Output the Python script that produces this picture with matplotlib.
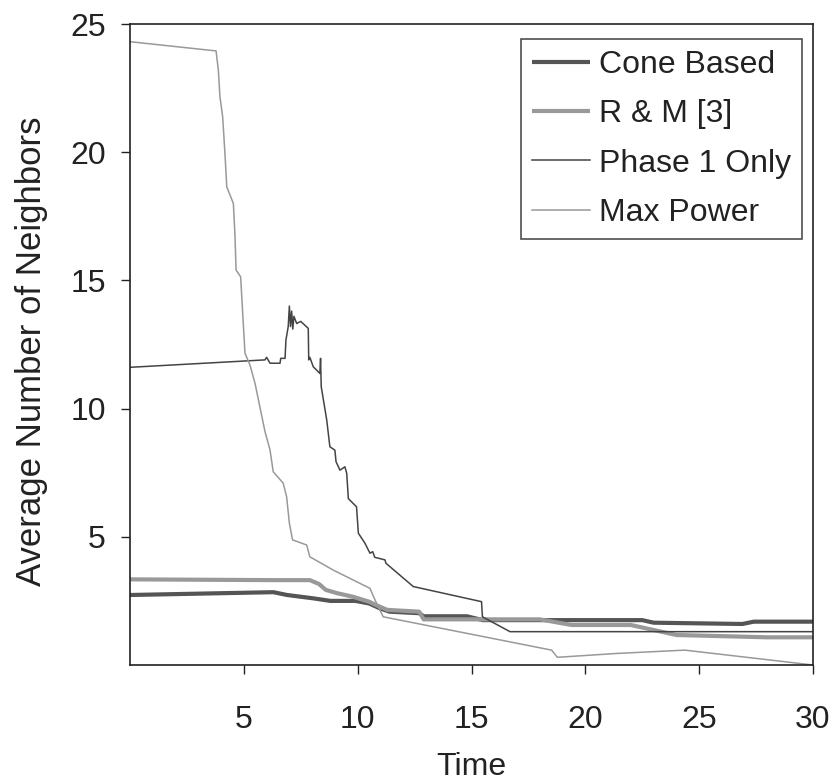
import numpy as np
import matplotlib
matplotlib.use("Agg")
import matplotlib.pyplot as plt

plt.rcParams['font.family'] = ['Liberation Sans', 'DejaVu Sans']

# Cone Based
cone_x = [0, 6.3, 6.9, 8.05, 8.8, 9.9, 10.5, 11.0, 11.4, 12.7, 12.9, 14.8, 15.5, 22.5, 23.0, 26.9, 27.4, 30]
cone_y = [2.73, 2.84, 2.73, 2.6, 2.5, 2.5, 2.4, 2.2, 2.08, 2.02, 1.9, 1.9, 1.75, 1.75, 1.65, 1.6, 1.69, 1.69]

# R & M [3]
rm_x = [0, 6.3, 7.9, 8.3, 8.6, 9.1, 9.8, 10.5, 10.8, 11.3, 12.7, 12.9, 18.0, 19.4, 22.0, 24.0, 28.0, 30]
rm_y = [3.34, 3.31, 3.31, 3.16, 2.93, 2.8, 2.66, 2.47, 2.34, 2.15, 2.08, 1.78, 1.78, 1.56, 1.56, 1.17, 1.08, 1.08]

# Phase 1 Only
ph_x = [0, 5.93, 6.0, 6.15, 6.59, 6.62, 6.81, 6.85, 6.95, 7.0, 7.05, 7.1, 7.15, 7.2, 7.32, 7.5,
        7.83, 7.85, 7.9, 8.05, 8.2, 8.34, 8.37, 8.4, 8.64, 8.78, 9.0, 9.05, 9.22, 9.44, 9.52,
        9.59, 9.95, 10.03, 10.32, 10.54, 10.66, 10.75, 11.2, 11.24, 12.44, 15.44, 15.48, 16.69, 30]
ph_y = [11.61, 11.9, 12.0, 11.77, 11.77, 11.96, 11.96, 12.68, 13.2, 14.0, 13.2, 13.8, 13.1, 13.6, 13.32, 13.4,
        13.13, 11.9, 12.0, 11.63, 11.5, 11.37, 11.96, 10.85, 9.56, 8.51, 8.38, 7.93, 7.6, 7.73, 7.47,
        6.49, 6.17, 5.14, 4.75, 4.36, 4.42, 4.2, 4.1, 3.97, 3.06, 2.47, 1.88, 1.3, 1.3]

# Max Power
mp_x = [0, 3.78, 3.88, 3.95, 4.07, 4.17, 4.25, 4.54, 4.61, 4.66, 4.86, 4.95, 5.05, 5.27, 5.49,
        5.93, 6.15, 6.29, 6.73, 6.88, 7.0, 7.14, 7.76, 7.9, 8.93, 10.54, 10.76, 11.12, 18.52,
        18.77, 21.37, 24.37, 30]
mp_y = [24.31, 23.95, 23.2, 22.17, 21.38, 19.96, 18.65, 18.0, 16.77, 15.4, 15.14, 13.72, 12.16, 11.7, 10.99,
        9.1, 8.39, 7.54, 7.09, 6.56, 5.53, 4.88, 4.68, 4.22, 3.7, 2.99, 2.54, 1.88, 0.58,
        0.3, 0.45, 0.58, 0.0]

fig = plt.figure(figsize=(8.33, 7.81), dpi=100)
ax = fig.add_axes([130/833, 1 - 665/781, 683/833, 641/781])

ax.plot(cone_x, cone_y, color='#555555', lw=3.0, label='Cone Based', solid_capstyle='butt')
ax.plot(rm_x, rm_y, color='#999999', lw=3.0, label='R & M [3]', solid_capstyle='butt')
ax.plot(ph_x, ph_y, color='#444444', lw=1.1, label='Phase 1 Only')
ax.plot(mp_x, mp_y, color='#999999', lw=1.1, label='Max Power')

ax.set_xlim(0, 30)
ax.set_ylim(0, 25)
ax.set_xticks([5, 10, 15, 20, 25, 30])
ax.set_yticks([5, 10, 15, 20, 25])
ax.tick_params(axis='both', direction='out', length=6.5, width=1, labelsize=23, colors='#222222')
ax.tick_params(axis='x', pad=22)
ax.tick_params(axis='y', pad=11)
for s in ax.spines.values():
    s.set_linewidth(1.2)
    s.set_color('#222222')

ax.set_xlabel('Time', fontsize=23, color='#222222')
ax.set_ylabel('Average Number of Neighbors', fontsize=25, color='#222222')
ax.xaxis.set_label_coords(0.5, -0.135)
ax.yaxis.set_label_coords(-0.12, 0.49)

leg = ax.legend(loc='upper left', bbox_to_anchor=(521/833, 1 - 39/781), bbox_transform=fig.transFigure,
                fontsize=23, frameon=True, fancybox=False, edgecolor='#222222',
                handlelength=1.8, handletextpad=0.28, borderpad=0.35, labelspacing=0.6,
                borderaxespad=0)
leg.get_frame().set_linewidth(1.2)
for t in leg.get_texts():
    t.set_color('#222222')

fig.savefig('out.png', dpi=100)
